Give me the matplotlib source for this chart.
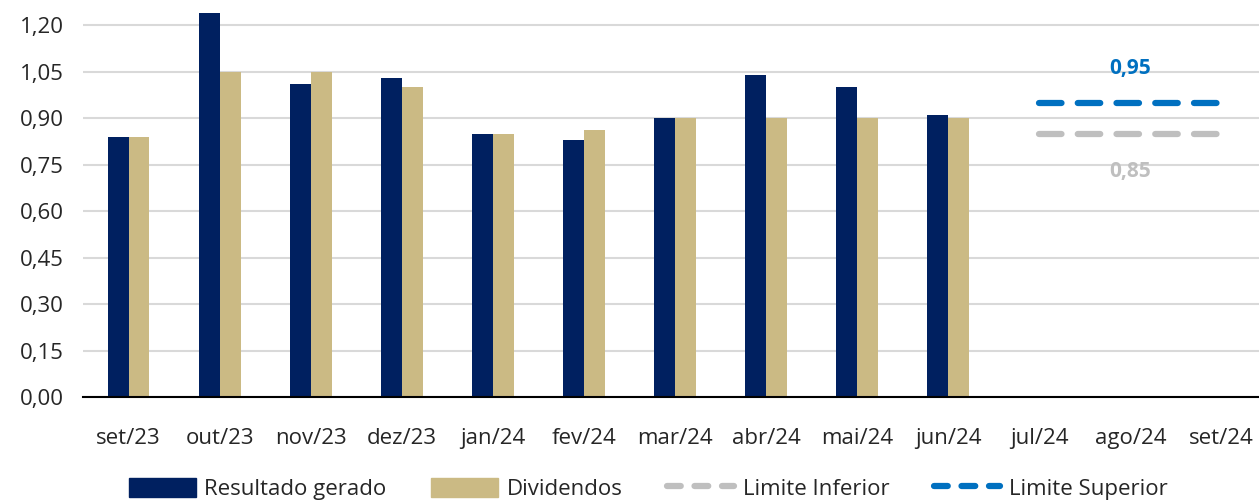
import numpy as np
import matplotlib.pyplot as plt
from matplotlib.lines import Line2D
from matplotlib.patches import Patch

meses = ['set/23', 'out/23', 'nov/23', 'dez/23', 'jan/24', 'fev/24', 'mar/24',
         'abr/24', 'mai/24', 'jun/24', 'jul/24', 'ago/24', 'set/24']
resultado = [0.84, 1.24, 1.01, 1.03, 0.85, 0.83, 0.90, 1.04, 1.00, 0.91]
dividendos = [0.84, 1.05, 1.05, 1.00, 0.85, 0.86, 0.90, 0.90, 0.90, 0.90]
limite_meses = ['jul/24', 'ago/24', 'set/24']
limite_inf = [0.85, 0.85, 0.85]
limite_sup = [0.95, 0.95, 0.95]
yticks = [0.0, 0.15, 0.30, 0.45, 0.60, 0.75, 0.90, 1.05, 1.20]

navy = '#002060'
gold = '#CBBA84'
blue = '#0070C0'
gray = '#BFBFBF'

plt.rcParams['font.family'] = ['Open Sans', 'DejaVu Sans']

fig = plt.figure(figsize=(12.59, 5.04), dpi=100)
ax = fig.add_axes([0.0659, 0.2123, 0.9404, 0.7877])

x = np.arange(len(meses))
w = 0.23
n = len(resultado)
ax.bar(x[:n] - w / 2, resultado, w, color=navy, zorder=3)
ax.bar(x[:n] + w / 2, dividendos, w, color=gold, zorder=3)

xl = [meses.index(m) for m in limite_meses]
ax.plot(xl, limite_inf, color=gray, lw=4.5, dashes=(3.6, 2.6),
        dash_capstyle='round', zorder=4)
ax.plot(xl, limite_sup, color=blue, lw=4.5, dashes=(3.6, 2.6),
        dash_capstyle='round', zorder=4)

ax.text(xl[1], limite_sup[1] + 0.11, '0,95', color=blue, fontsize=15,
        fontweight='bold', ha='center', va='center')
ax.text(xl[1], limite_inf[1] - 0.123, '0,85', color=gray, fontsize=15,
        fontweight='bold', ha='center', va='center')

ax.set_xlim(-0.5, len(meses) - 0.5)
ax.set_ylim(0, 1.281)
ax.set_yticks(yticks)
ax.set_yticklabels([f'{v:.2f}'.replace('.', ',') for v in yticks])
ax.set_xticks(x)
ax.set_xticklabels(meses)
ax.tick_params(axis='both', length=0, labelsize=16, colors='#262626')
ax.tick_params(axis='x', pad=22)
ax.tick_params(axis='y', pad=14)
ax.yaxis.grid(True, color='#D9D9D9', lw=1.5, zorder=0)
ax.set_axisbelow(True)
for s in ['top', 'right', 'left']:
    ax.spines[s].set_visible(False)
ax.spines['bottom'].set_color('black')
ax.spines['bottom'].set_linewidth(1.5)
ax.spines['bottom'].set_zorder(5)

handles = [
    Patch(color=navy, label='Resultado gerado'),
    Patch(color=gold, label='Dividendos'),
    Line2D([0], [0], color=gray, lw=4.5, dashes=(2.2, 2.2), dash_capstyle='round', label='Limite Inferior'),
    Line2D([0], [0], color=blue, lw=4.5, dashes=(2.2, 2.2), dash_capstyle='round', label='Limite Superior'),
]
fig.legend(handles=handles, loc='center', bbox_to_anchor=(0.515, 0.03), ncol=4,
           frameon=False, fontsize=16, handlelength=3.0, handleheight=1.0,
           handletextpad=0.4, columnspacing=2.0, labelcolor='#262626',
           borderpad=0.1)

fig.savefig('out.png', dpi=100)
